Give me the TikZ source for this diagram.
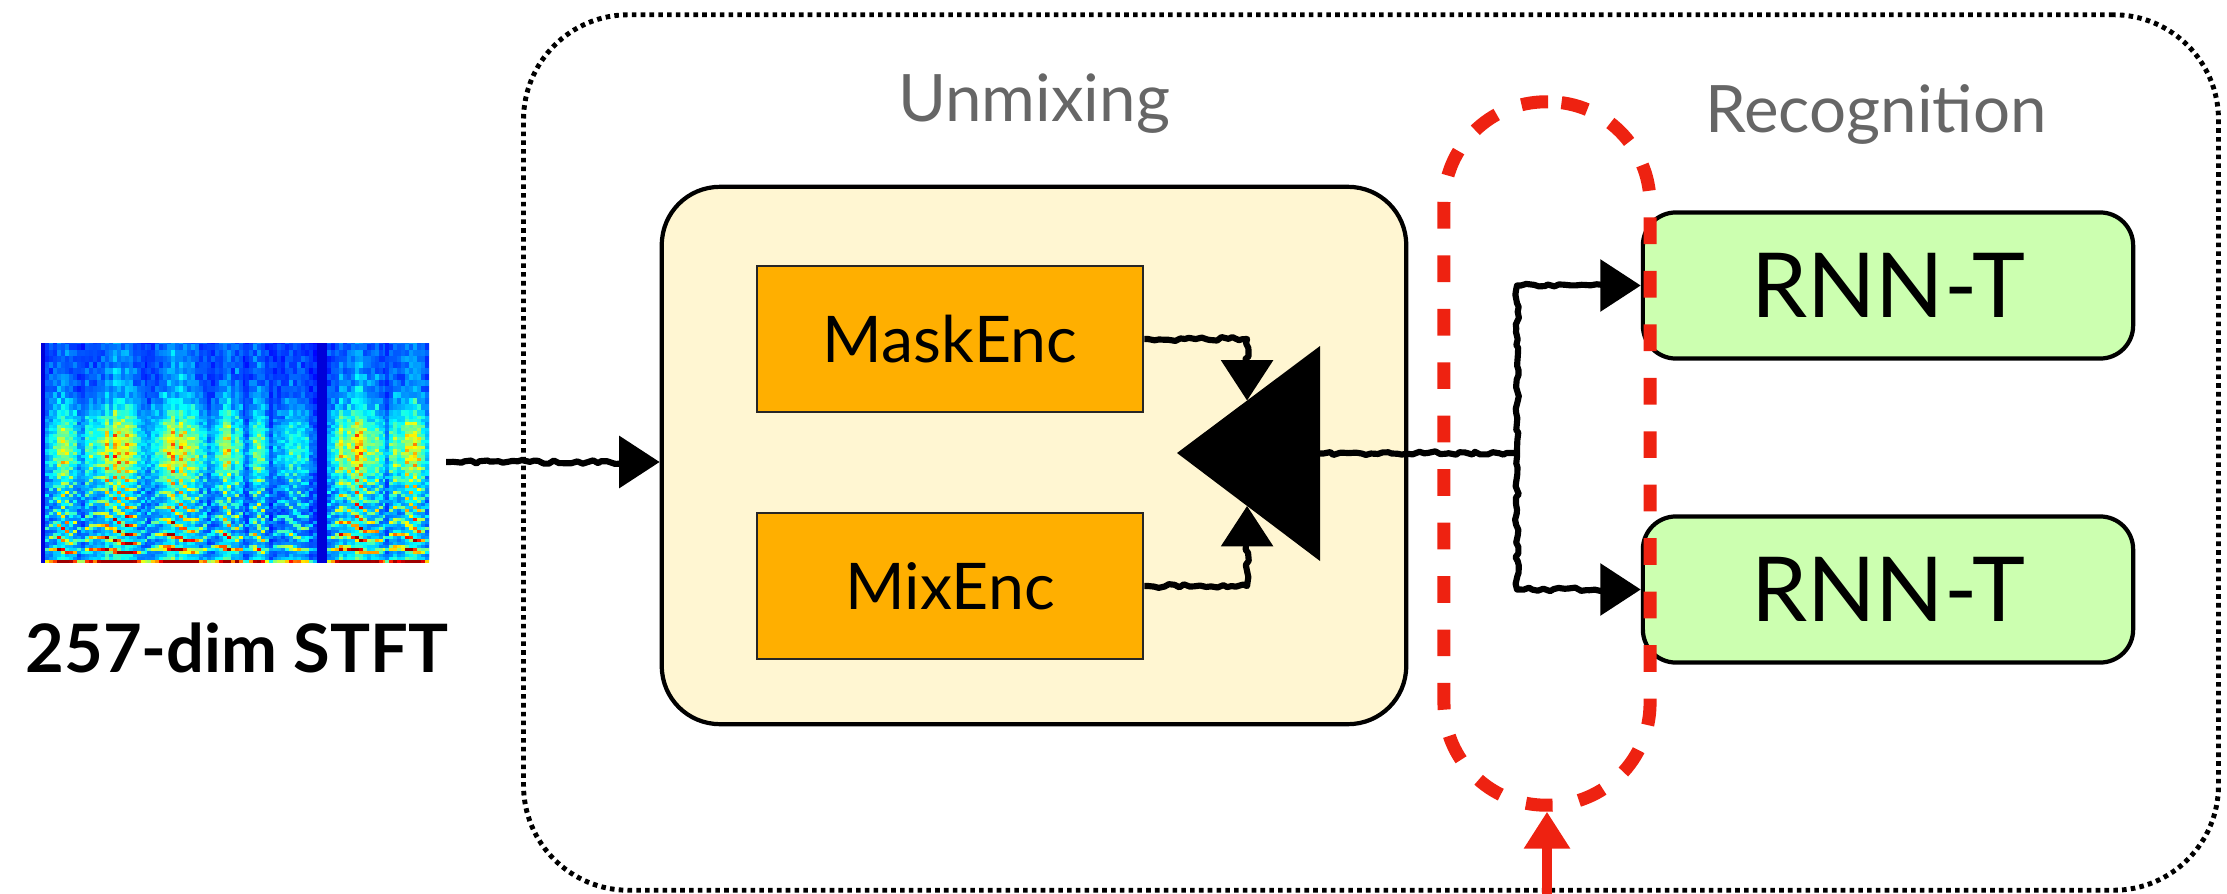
\documentclass[tikz,border=0pt]{standalone}
\usepackage{fontspec}
\setmainfont{Lato}
\usetikzlibrary{arrows.meta,decorations.pathmorphing,calc}

\definecolor{unmixfill}{HTML}{FFF6D2}
\definecolor{encfill}{HTML}{FFAF00}
\definecolor{rnnfill}{HTML}{CCFFB0}
\definecolor{focusred}{HTML}{EE2211}
\definecolor{labelgray}{HTML}{666666}
\definecolor{specbg}{rgb}{0,0,0.85}

\begin{document}
\begin{tikzpicture}[x=0.01cm,y=-0.01cm,
  frame/.style={draw, line width=1.4pt, dash pattern=on 1.3pt off 1.2pt,
    rounded corners=1.05cm, minimum width=16.94cm, minimum height=8.75cm, inner sep=0pt},
  unmixbox/.style={draw, line width=1.2pt, fill=unmixfill, rounded corners=0.58cm,
    minimum width=7.44cm, minimum height=5.37cm, inner sep=0pt},
  encbox/.style={draw=black!85, line width=0.7pt, fill=encfill,
    minimum width=3.86cm, minimum height=1.46cm, inner sep=0pt,
    font=\fontsize{18.3pt}{22pt}\selectfont},
  rnnbox/.style={draw, line width=1.2pt, fill=rnnfill, rounded corners=0.33cm,
    minimum width=4.90cm, minimum height=1.46cm, inner sep=0pt,
    font=\fontsize{25.5pt}{30pt}\selectfont},
  focus/.style={draw=focusred, line width=3.7pt, dash pattern=on 7.6pt off 7.6pt,
    rounded corners=1.02cm, minimum width=2.06cm, minimum height=7.03cm, inner sep=0pt},
  title/.style={text=labelgray, font=\fontsize{18.6pt}{22pt}\selectfont, inner sep=0pt},
  sketch/.style={line width=1.75pt, line join=round, decorate,
    decoration={random steps, segment length=1.5pt, amplitude=0.55pt,
      pre length=1pt, post length=3pt}},
  conn/.style={sketch, -{Triangle[length=11.5pt,width=14.5pt]}},
  redarrow/.style={draw=focusred, line width=3pt, -{Triangle[length=10.5pt,width=12.5pt]}}
]
\useasboundingbox (0,0) rectangle (2227,894);

% outer dotted frame
\node[frame] (frame) at (1371,452.5) {};

% spectrogram of the input
\node[fill=specbg, minimum width=3.88cm, minimum height=2.20cm, inner sep=0pt] (spec) at (235,453) {};
\pgfmathsetseed{11}
\begin{scope}
  \clip (41,343) rectangle (429,563);
  \foreach \s/\e/\k/\p in {4/36/0.95/11, 40/104/1.0/10.5, 106/164/1.05/12,
      166/202/0.8/13, 204/226/0.65/12, 228/272/0.55/13, 286/342/1.05/11.5, 344/388/1.0/12}{
    \pgfmathtruncatemacro\sa{\s+4}
    \foreach \xx in {\s,\sa,...,\e}{
      \pgfmathsetmacro\t{(\xx-\s)/(\e-\s+0.001)}
      \pgfmathsetmacro\c{\k*(0.65+0.45*rnd)*(0.4+0.6*sin(180*\t))}
      \pgfmathsetmacro\sp{\p*(1+0.15*sin(360*\t))}
      \foreach \yy in {0,3,...,147,153,159,...,219}{
        \pgfmathsetmacro\hv{(0.5+0.5*cos(360*(\yy/\sp)))^4}
        \pgfmathsetmacro\v{min(0.97,0.1+\c*(1.0*\hv*exp(-\yy/75)+0.18*exp(-\yy/80)+0.32*exp(-((\yy-115)/35)^2)+0.1)+0.08*rnd)}
        \pgfmathsetmacro\jr{max(0,min(1,1.5-abs(4*\v-3)))}
        \pgfmathsetmacro\jg{max(0,min(1,1.5-abs(4*\v-2)))}
        \pgfmathsetmacro\jb{max(0,min(1,1.5-abs(4*\v-1)))}
        \definecolor{sc}{rgb}{\jr,\jg,\jb}
        \fill[sc] (41+\xx,563-\yy) rectangle ++(4.4,-6.4);
      }
    }
  }
\end{scope}
\node[anchor=base, inner sep=0pt, font=\bfseries\fontsize{19pt}{22pt}\selectfont] (stft) at (237,672) {257-dim STFT};

% section titles
\node[title, anchor=base] (tunmix) at (1034,122) {Unmixing};
\node[title, anchor=base] (trec) at (1876,133) {Recognition};

% unmixing block
\node[unmixbox] (unmix) at (1034,455.5) {};
\node[encbox] (mask) at (950,339) {MaskEnc};
\node[encbox] (mix) at (950,586) {MixEnc};

% combining triangle
\coordinate (tA) at (1177,453);
\coordinate (tB) at (1320,346);
\coordinate (tC) at (1320,561);
\fill (tA) -- (tB) -- (tC) -- cycle;
\coordinate (tbase) at ($(tB)!0.5!(tC)$);
\coordinate (tmask) at ($(tA)!0.49!(tB)$);
\coordinate (tmix) at ($(tA)!0.49!(tC)$);

% recognition blocks
\node[rnnbox] (rnn1) at (1888,285.5) {RNN-T};
\node[rnnbox] (rnn2) at (1888,589.5) {RNN-T};

% connectors
\coordinate (inA) at (446,462);
\draw[conn] (inA) -- (inA -| unmix.west);
\draw[conn] (mask.east) -| (tmask);
\draw[conn] (mix.east) -| (tmix);
\coordinate (split) at (1517,453);
\draw[sketch] (tbase) -- (split);
\draw[conn] (split) |- (rnn1.west);
\draw[conn] (split) |- (rnn2.west);

% highlighted interface
\node[focus] (focusbox) at (1547,453.5) {};
\coordinate (rA) at (1547,905);
\draw[redarrow] (rA) -- (focusbox.south);
\end{tikzpicture}
\end{document}
